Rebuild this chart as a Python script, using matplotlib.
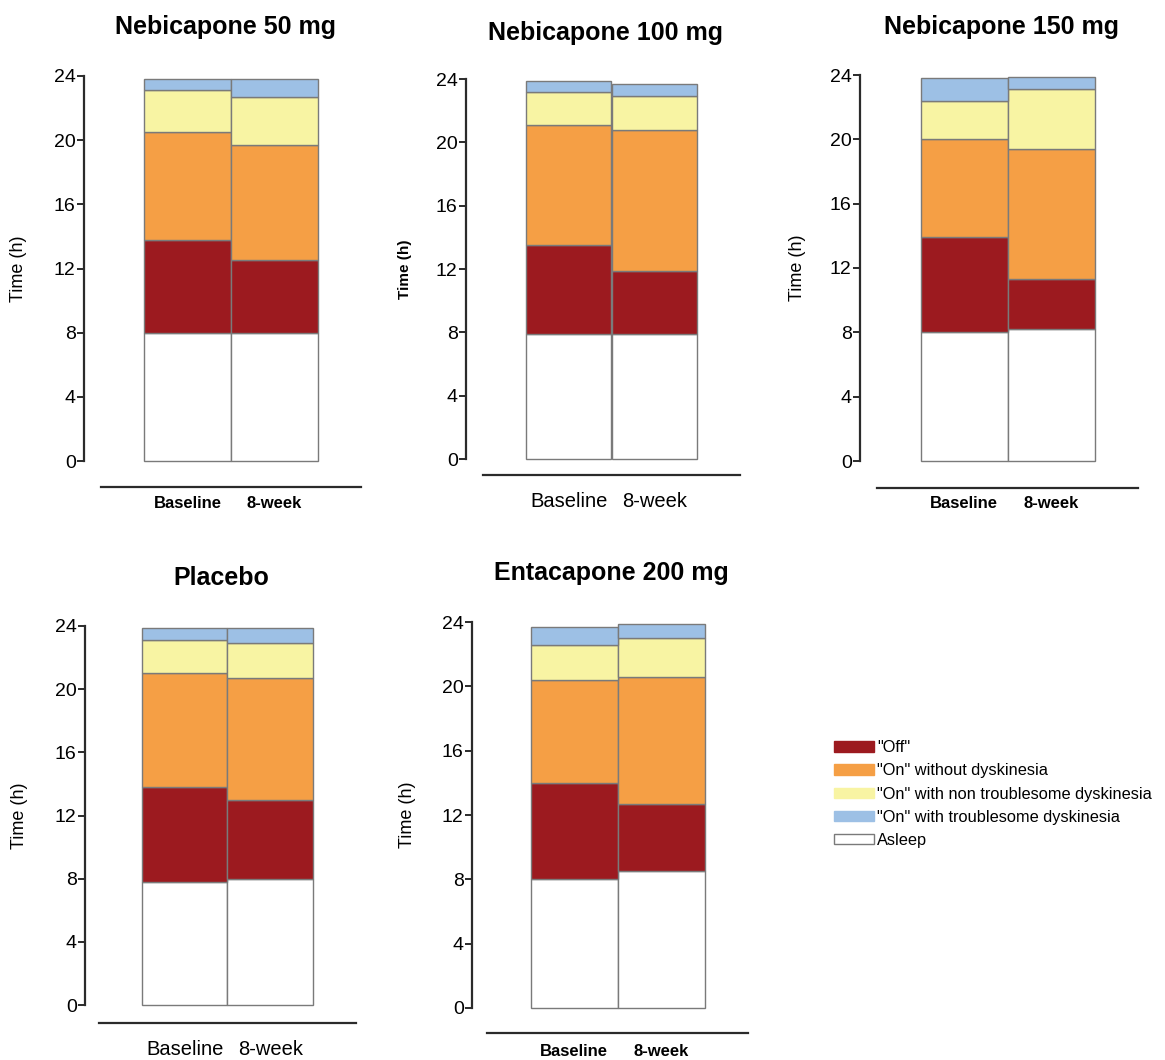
import matplotlib
matplotlib.use("Agg")
import matplotlib.pyplot as plt
from matplotlib.patches import Patch

plt.rcParams['font.family'] = ['Liberation Sans', 'DejaVu Sans']

W, H = 1165, 1060

titles = ['Nebicapone 50 mg', 'Nebicapone 100 mg', 'Nebicapone 150 mg',
          'Placebo', 'Entacapone 200 mg']
categories = ['Baseline', '8-week']
yticks = [0, 4, 8, 12, 16, 20, 24]

# hours per state, one [baseline, 8-week] pair per panel
asleep = [[8.0, 8.0], [7.9, 7.9], [8.0, 8.2], [7.8, 8.0], [8.0, 8.5]]
off = [[5.8, 4.5], [5.6, 4.0], [5.9, 3.1], [6.0, 5.0], [6.0, 4.2]]
on_no_dysk = [[6.7, 7.2], [7.6, 8.9], [6.1, 8.1], [7.2, 7.7], [6.4, 7.9]]
on_nontroub = [[2.6, 3.0], [2.1, 2.1], [2.4, 3.7], [2.1, 2.2], [2.2, 2.4]]
on_troub = [[0.7, 1.1], [0.7, 0.8], [1.4, 0.8], [0.8, 1.0], [1.1, 0.9]]

states = [asleep, off, on_no_dysk, on_nontroub, on_troub]
state_labels = ['Asleep', '"Off"', '"On" without dyskinesia',
                '"On" with non troublesome dyskinesia',
                '"On" with troublesome dyskinesia']
colors = ['white', '#9c1a1f', '#f59f45', '#f8f4a3', '#9dc0e5']

# pixel layout: line x0, line x1, y of 24, y of 0, spine x, line y,
# title y, label gap, ylabel x
layout = [
    (101, 361, 76, 461, 84, 487, 27, 17, 27),
    (483, 740, 79, 459, 466, 475, 33, 25, 412),
    (877, 1138, 75, 461, 860, 488, 27, 16, 806),
    (99, 356, 626, 1005, 85, 1023, 578, 25, 28),
    (487, 748, 622, 1008, 472, 1033, 573, 19, 416),
]
bold_ticks = [True, False, True, False, True]
bold_ylabel = [False, True, False, False, False]

fig = plt.figure(figsize=(W / 100, H / 100), dpi=100)
px2pt = 72 / 100

for i, (x0, x1, yt, yb, sx, ly, ty, gap, lx) in enumerate(layout):
    ax = fig.add_axes([x0 / W, 1 - yb / H, (x1 - x0) / W, (yb - yt) / H])
    bottom = [0, 0]
    for s, col in zip(states, colors):
        ax.bar([0, 1], s[i], width=1.0, bottom=bottom, color=col,
               edgecolor='#7a7a7a', linewidth=1.0, clip_on=False)
        bottom = [bottom[0] + s[i][0], bottom[1] + s[i][1]]
    ax.set_xlim(-1, 2)
    ax.set_ylim(0, 24)
    ax.set_yticks(yticks)
    for sp in ['top', 'right']:
        ax.spines[sp].set_visible(False)
    ax.spines['left'].set_position(('outward', (x0 - sx) * px2pt))
    ax.spines['left'].set_bounds(0, 24)
    ax.spines['bottom'].set_position(('outward', (ly - yb) * px2pt))
    for sp in ['left', 'bottom']:
        ax.spines[sp].set_linewidth(1.6)
        ax.spines[sp].set_color('#2b2b2b')
    ax.tick_params(axis='y', length=5, width=1.4, color='#2b2b2b',
                   labelsize=14, pad=1)
    ax.set_xticks([0, 1])
    if bold_ticks[i]:
        ax.set_xticklabels(categories, fontsize=12, fontweight='bold')
    else:
        ax.set_xticklabels(categories, fontsize=14.5)
    ax.tick_params(axis='x', length=0, pad=(gap - 8) * px2pt)
    if bold_ylabel[i]:
        ax.set_ylabel('Time (h)', fontsize=11, fontweight='bold')
    else:
        ax.set_ylabel('Time (h)', fontsize=13)
    ax.yaxis.set_label_coords((lx - x0) / (x1 - x0), 0.5)
    fig.text((x0 + x1) / 2 / W - 0.005, 1 - ty / H, titles[i], ha='center',
             va='center', fontsize=18, fontweight='bold')

handles = [Patch(facecolor=c, edgecolor='#7a7a7a' if c == 'white' else c,
                 linewidth=1.0, label=l)
           for c, l in zip(colors, state_labels)]
order = [1, 2, 3, 4, 0]
fig.legend([handles[k] for k in order], [state_labels[k] for k in order],
           loc='upper left', bbox_to_anchor=(826 / W, 1 - 732 / H),
           frameon=False, fontsize=11.8, handlelength=2.4, handleheight=0.6,
           handletextpad=0.2, labelspacing=0.5, borderpad=0)

fig.savefig('out.png', dpi=100)
